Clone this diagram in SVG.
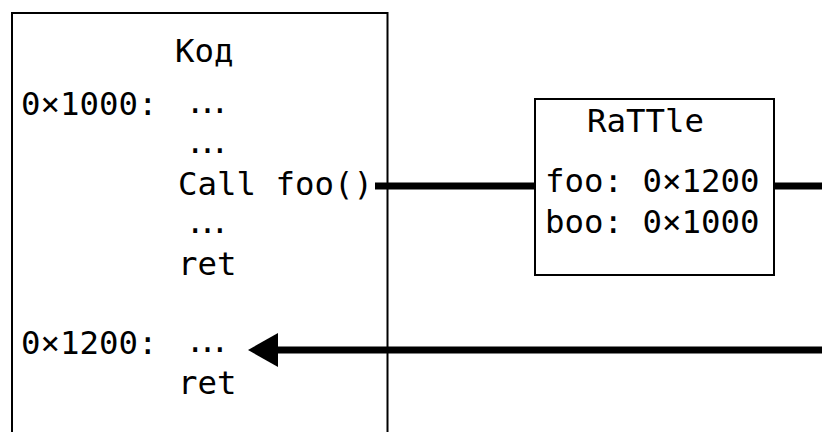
<svg xmlns="http://www.w3.org/2000/svg" width="822" height="432" viewBox="0 0 822 432">
<style>
text{font-family:"DejaVu Sans Mono","Liberation Mono",monospace;font-size:32.4px;fill:#000}
text.el{font-family:"DejaVu Sans",sans-serif;font-size:37px}
.box{fill:#fff;stroke:#000;stroke-width:2}
.conn{stroke:#000;stroke-width:7;fill:none}
</style>
<defs>
<marker id="ah" markerUnits="userSpaceOnUse" markerWidth="31" markerHeight="34" refX="1" refY="17" orient="auto" overflow="visible">
<path d="M0,0 L30,17 L0,34 Z" fill="#000"/>
</marker>
</defs>
<rect width="822" height="432" fill="#fff"/>
<g id="code">
<rect class="box" x="12" y="13" width="375.5" height="440"/>
<text x="175" y="62">Код</text>
<text x="21" y="115">0×1000:</text>
<text class="el" x="189" y="113">…</text>
<text class="el" x="189" y="153">…</text>
<text x="178" y="195">Call foo()</text>
<text class="el" x="189" y="233">…</text>
<text x="178" y="275">ret</text>
<text x="21" y="354">0×1200:</text>
<text class="el" x="189" y="352">…</text>
<text x="178" y="394">ret</text>
</g>
<g id="rattle">
<rect class="box" x="535" y="99" width="239" height="176"/>
<text x="587" y="132">RaTTle</text>
<text x="545" y="192">foo: 0×1200</text>
<text x="545" y="233">boo: 0×1000</text>
</g>
<g id="connectors">
<line class="conn" x1="375" y1="186" x2="535" y2="186"/>
<line class="conn" x1="774" y1="186" x2="822" y2="186"/>
<line class="conn" x1="822" y1="350" x2="277" y2="350" marker-end="url(#ah)"/>
</g>
</svg>
